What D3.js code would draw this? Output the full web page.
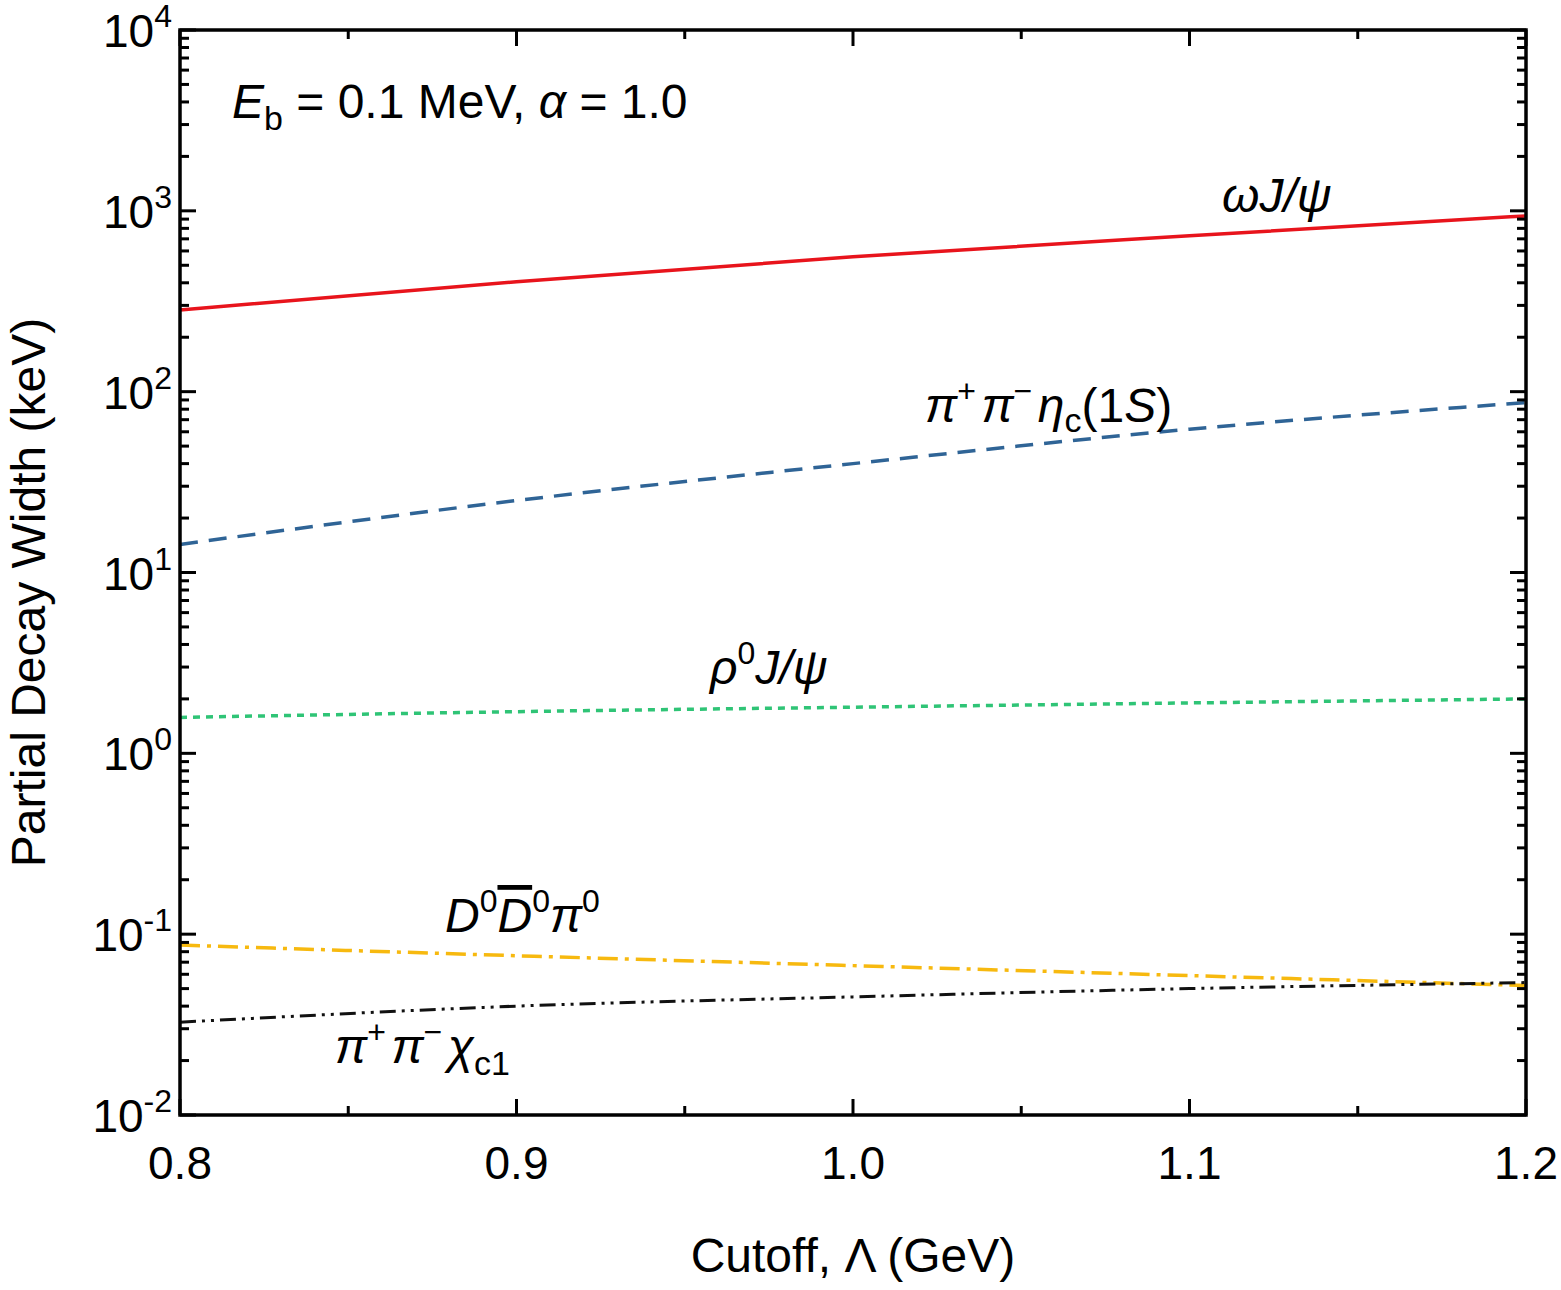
<!DOCTYPE html>
<html><head><meta charset="utf-8">
<script src="https://cdn.jsdelivr.net/npm/d3@7"></script>
<style>
body{margin:0;background:#fff;font-family:"Liberation Sans",Arial,sans-serif}
.lbl{font-size:48px}
</style></head>
<body>
<svg id="chart" width="1561" height="1290"></svg>
<script>
const cutoff = [0.8, 0.9, 1.0, 1.1, 1.2]
const omegaJpsi = [283, 405, 557, 728, 937]
const pipiEtac = [14.3, 25, 40, 62, 87]
const rhoJpsi = [1.58, 1.7, 1.8, 1.9, 2.0]
const DDpi = [0.087, 0.076, 0.067, 0.059, 0.052]
const pipiChic1 = [0.0326, 0.040, 0.045, 0.050, 0.054]
const xTicks = [0.8, 0.9, 1.0, 1.1, 1.2]
const yTicks = [-2, -1, 0, 1, 2, 3, 4]

const svg = d3.select('#chart')
const L = 180, R = 1526, T = 30, B = 1115
const x = d3.scaleLinear().domain([0.8, 1.2]).range([L, R])
const y = d3.scaleLog().domain([1e-2, 1e4]).range([B, T])

const series = [
  {v: omegaJpsi, color: '#e8141c', dash: null, w: 3.5},
  {v: pipiEtac, color: '#2f6496', dash: '18,11', w: 3.5},
  {v: rhoJpsi, color: '#2fc476', dash: '7,6', w: 3.5},
  {v: DDpi, color: '#f7b90f', dash: '20,7,4,7', w: 3.5},
  {v: pipiChic1, color: '#111', dash: '16,6,3,6,3,6', w: 3}
]
const line = d3.line().x((d, i) => x(cutoff[i])).y(d => y(d)).curve(d3.curveMonotoneX)
series.forEach(s => {
  svg.append('path').attr('d', line(s.v)).attr('fill', 'none')
    .attr('stroke', s.color).attr('stroke-width', s.w)
    .attr('stroke-dasharray', s.dash)
})

// frame and ticks
svg.append('rect').attr('x', L).attr('y', T).attr('width', R - L).attr('height', B - T)
  .attr('fill', 'none').attr('stroke', '#000').attr('stroke-width', 3.5)

const tk = svg.append('g').attr('stroke', '#000').attr('stroke-width', 3)
d3.range(0.8, 1.2001, 0.05).forEach((v, i) => {
  const len = i % 2 === 0 ? 16 : 9
  tk.append('line').attr('x1', x(v)).attr('x2', x(v)).attr('y1', B).attr('y2', B - len)
  tk.append('line').attr('x1', x(v)).attr('x2', x(v)).attr('y1', T).attr('y2', T + len)
})
for (let e = -2; e <= 4; e++) {
  for (let m = 1; m <= 9; m++) {
    if (e === 4 && m > 1) break
    const yy = y(m * Math.pow(10, e)), len = m === 1 ? 16 : 9
    tk.append('line').attr('x1', L).attr('x2', L + len).attr('y1', yy).attr('y2', yy)
    tk.append('line').attr('x1', R).attr('x2', R - len).attr('y1', yy).attr('y2', yy)
  }
}

xTicks.forEach(v => {
  svg.append('text').attr('x', x(v)).attr('y', B + 64).attr('text-anchor', 'middle')
    .attr('font-size', 46).text(d3.format('.1f')(v))
})
yTicks.forEach(e => {
  const t = svg.append('text').attr('x', L - 8).attr('y', y(Math.pow(10, e)) + 17)
    .attr('text-anchor', 'end').attr('font-size', 46)
  t.append('tspan').text('10')
  t.append('tspan').attr('dy', -20).attr('font-size', 32).text(e)
})

svg.append('text').attr('class', 'lbl').attr('x', (L + R) / 2 + 0).attr('y', 1272)
  .attr('text-anchor', 'middle').text('Cutoff, Λ (GeV)')
svg.append('text').attr('class', 'lbl')
  .attr('transform', `translate(45,${(T + B) / 2 + 20}) rotate(-90)`)
  .attr('text-anchor', 'middle').text('Partial Decay Width (keV)')

// annotation
function label(xp, yp, parts, fs) {
  const t = svg.append('text').attr('x', xp).attr('y', yp).attr('font-size', fs || 48)
  parts.forEach(p => {
    const s = t.append('tspan').text(p.t)
    if (p.i) s.attr('font-style', 'italic')
    if (p.dy) s.attr('dy', p.dy)
    if (p.fs) s.attr('font-size', p.fs)
    if (p.o) s.attr('text-decoration', 'overline')
  })
  return t
}
label(232, 118, [{t: 'E', i: 1}, {t: 'b', dy: 12, fs: 34}, {t: ' = 0.1 MeV,  ', dy: -12}, {t: 'α', i: 1}, {t: ' = 1.0'}])
label(1222, 212, [{t: 'ωJ/ψ', i: 1}])
label(925, 422, [{t: 'π', i: 1}, {t: '+', dy: -20, fs: 32}, {t: ' ', fs: 20}, {t: 'π', i: 1, dy: 20}, {t: '−', dy: -20, fs: 32}, {t: ' ', fs: 20}, {t: 'η', i: 1, dy: 20}, {t: 'c', dy: 10, fs: 34}, {t: '(1', dy: -10}, {t: 'S', i: 1}, {t: ')'}])
label(710, 684, [{t: 'ρ', i: 1}, {t: '0', dy: -20, fs: 32}, {t: 'J/ψ', i: 1, dy: 20}])
label(445, 932, [{t: 'D', i: 1}, {t: '0', dy: -20, fs: 32}, {t: 'D', i: 1, dy: 20, o: 1}, {t: '0', dy: -20, fs: 32}, {t: 'π', i: 1, dy: 20}, {t: '0', dy: -20, fs: 32}])
label(335, 1063, [{t: 'π', i: 1}, {t: '+', dy: -20, fs: 32}, {t: ' ', fs: 20}, {t: 'π', i: 1, dy: 20}, {t: '−', dy: -20, fs: 32}, {t: ' ', fs: 20}, {t: 'χ', i: 1, dy: 20}, {t: 'c1', dy: 12, fs: 34}])
</script>
</body></html>
